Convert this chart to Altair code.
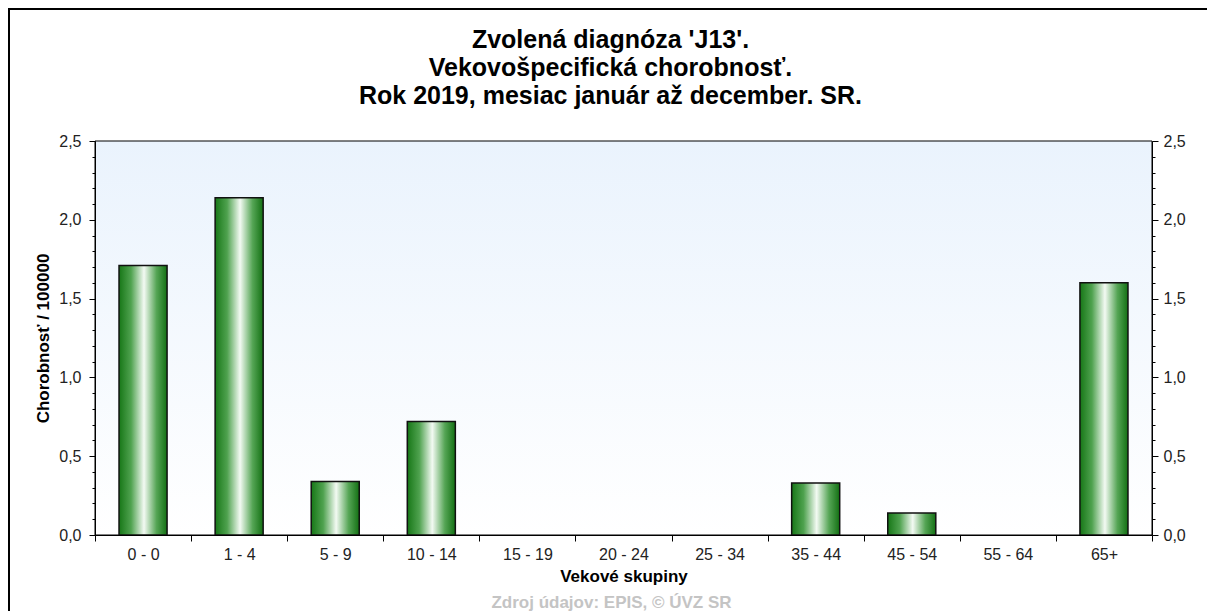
import altair as alt
import pandas as pd

categories = ["0 - 0", "1 - 4", "5 - 9", "10 - 14", "15 - 19", "20 - 24",
              "25 - 34", "35 - 44", "45 - 54", "55 - 64", "65+"]
values = [1.71, 2.14, 0.34, 0.72, 0.0, 0.0, 0.0, 0.33, 0.14, 0.0, 1.60]
y_ticks = [round(i / 10, 1) for i in range(26)]
title_lines = ["Zvolená diagnóza 'J13'.", "Vekovošpecifická chorobnosť.",
               "Rok 2019, mesiac január až december. SR."]
footer = "Zdroj údajov: EPIS, © ÚVZ SR"

df = pd.DataFrame({"skupina": categories, "hodnota": values})

W, H = 1057, 394
FONT = "Liberation Sans"

major_test = "abs(datum.value*2 - round(datum.value*2)) < 0.001"
label_expr = f"{major_test} ? replace(format(datum.value, '.1f'), '.', ',') : ''"

x_enc = alt.X("skupina:N", sort=categories,
              scale=alt.Scale(paddingInner=0, paddingOuter=0),
              axis=alt.Axis(title="Vekové skupiny", labelAngle=0, tickBand="extent",
                            tickSize=6, labelPadding=5, titlePadding=6, zindex=2,
                            domainColor="black", tickColor="black",
                            labelFont=FONT, labelFontSize=16, labelColor="#222",
                            titleFont=FONT, titleFontSize=17, titleFontWeight="bold",
                            titleColor="black"))

y_scale = alt.Scale(domain=[0, 2.5], nice=False)


def y_axis(orient, title):
    return alt.Axis(orient=orient, title=title, values=y_ticks, labelExpr=label_expr,
                    tickSize={"condition": {"test": major_test, "value": 6}, "value": 3},
                    labelPadding=8 if orient == "left" else 5, grid=False, zindex=2,
                    domainColor="black", tickColor="black",
                    labelFont=FONT, labelFontSize=16, labelColor="#222",
                    titleFont=FONT, titleFontSize=17, titleFontWeight="bold",
                    titleColor="black", titlePadding=6)


bg_grad = alt.Gradient(gradient="linear",
                       stops=[alt.GradientStop(color="#eaf3fd", offset=0),
                              alt.GradientStop(color="#ffffff", offset=1)],
                       x1=0, x2=0, y1=0, y2=1)

bar_grad = alt.Gradient(gradient="linear",
                        stops=[alt.GradientStop(color="#177717", offset=0),
                               alt.GradientStop(color="#4fa24f", offset=0.25),
                               alt.GradientStop(color="#f3faf3", offset=0.52),
                               alt.GradientStop(color="#55a555", offset=0.78),
                               alt.GradientStop(color="#137013", offset=1)],
                        x1=0, x2=1, y1=0, y2=0)

one = alt.Data(values=[{}])

frame = alt.Chart(one).mark_rect(filled=False, stroke="black", strokeWidth=2).encode(
    x=alt.value(-86), x2=alt.value(W + 80), y=alt.value(-132), y2=alt.value(H + 120))

background = alt.Chart(one).mark_rect(fill=bg_grad, stroke="black", strokeWidth=1).encode(
    x=alt.value(0), x2=alt.value(W), y=alt.value(0), y2=alt.value(H))

bars = alt.Chart(df).mark_bar(fill=bar_grad, stroke="#111", strokeWidth=1.5,
                              width=alt.RelativeBandSize(0.5)).encode(
    x=x_enc,
    y=alt.Y("hodnota:Q", scale=y_scale, axis=y_axis("left", "Chorobnosť / 100000")),
    strokeOpacity=alt.condition(alt.datum.hodnota > 0, alt.value(1), alt.value(0)),
)

right = alt.Chart(df).mark_point(opacity=0).encode(
    y=alt.Y("hodnota:Q", scale=y_scale, axis=y_axis("right", None)),
)

title = alt.Chart(one).mark_text(text=title_lines, font=FONT, fontSize=25, fontWeight="bold",
                                 color="black", align="center", baseline="middle",
                                 lineHeight=28).encode(
    x=alt.value(W / 2 - 13), y=alt.value(-101))

foot = alt.Chart(one).mark_text(text=footer, font=FONT, fontSize=17, fontWeight="bold",
                                color="#c4c4c4", align="center", baseline="middle").encode(
    x=alt.value(W / 2 - 12), y=alt.value(462))

chart = alt.layer(frame, background, bars, right, title, foot).resolve_scale(
    y="shared").resolve_axis(y="independent").properties(
    width=W, height=H,
    autosize=alt.AutoSizeParams(type="none"),
    padding={"left": 87, "top": 133, "right": 55, "bottom": 80},
).configure_view(strokeWidth=0).configure(background="white")

chart.save("out.html", embed_options={"renderer": "svg", "actions": False})
